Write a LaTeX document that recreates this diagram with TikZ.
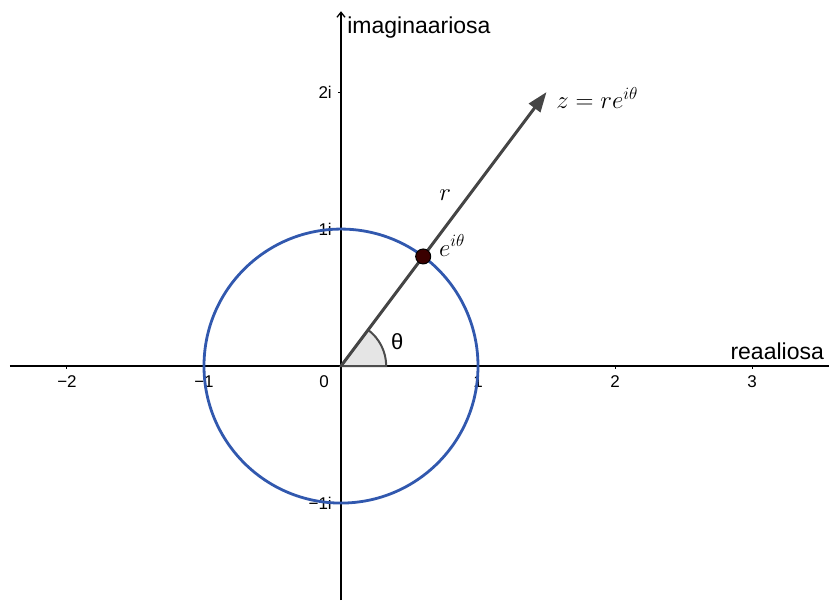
\documentclass[tikz,border=0pt]{standalone}
\usepackage{fontspec}
\setmainfont{Liberation Sans}
\usetikzlibrary{arrows.meta,positioning}
\definecolor{circblue}{HTML}{3158AE}
\definecolor{vecgray}{HTML}{454545}
\definecolor{dotred}{HTML}{3A0000}
\tikzset{
  axisline/.style={line width=1.3pt,black},
  ticklabel/.style={font=\fontsize{17}{20}\selectfont,inner sep=0pt},
  axislabel/.style={font=\fontsize{23}{27}\selectfont,inner sep=0pt},
  mathlabel/.style={font=\fontsize{25}{29}\selectfont,inner sep=0pt}
}

\begin{document}
\begin{tikzpicture}[x=137pt,y=137pt]
\useasboundingbox (-2.489,-1.708) rectangle (3.562,2.672);
\coordinate (o) at (0,0);
\coordinate (xl) at (-2.416,0);
\coordinate (xr) at (3.562,0);
\coordinate (yb) at (0,-1.708);
\coordinate (yt) at (0,2.59);
\coordinate (z) at (1.5,2);
\coordinate (p) at (0.6,0.8);
% axes
\draw[axisline] (xl)--(xr);
\draw[axisline,-{Straight Barb[length=5pt,width=8pt]}] (yb)--(yt);
\foreach \x/\t in {-2/−2,-1/−1,1/1,2/2,3/3}{
  \draw[line width=1pt] (\x,0)--(\x,-3pt);
  \node[ticklabel,anchor=base] (tx\x) at (\x,-0.16) {\t};
}
\node[ticklabel,anchor=base] (t0) at (-0.124,-0.16) {0};
\foreach \y/\t in {2/2i,1/1i,-1/−1i}{
  \draw[line width=1pt] (0,\y)--(-3pt,\y);
  \node[ticklabel,anchor=base east] (ty\y) at (-0.066,\y-0.05) {\t};
}
\node[axislabel,anchor=base west] (im) at (0.045,2.43) {imaginaariosa};
\node[axislabel,anchor=base east] (re) at (3.526,0.051) {reaaliosa};
% unit circle
\draw[circblue,line width=2.8pt] (o) circle (1);
% angle
\filldraw[fill=gray!20,draw=gray!60!black,line width=2pt] (o)--(0.33,0) arc (0:53.13:0.33)--cycle;
\node[font=\fontsize{22}{26}\selectfont,inner sep=0pt] (th) at (0.41,0.18) {θ};
% vector
\draw[vecgray,line width=3pt,-{Triangle[length=20pt,width=14pt]}] (o)--(z);
\filldraw[fill=dotred,draw=black,line width=1pt] (p) circle (7.5pt);
\node[mathlabel] (zl) at (1.87,1.96) {$z=re^{i\theta}$};
\node[mathlabel] (rl) at (0.76,1.25) {$r$};
\node[mathlabel] (el) at (0.81,0.88) {$e^{i\theta}$};
\end{tikzpicture}
\end{document}
